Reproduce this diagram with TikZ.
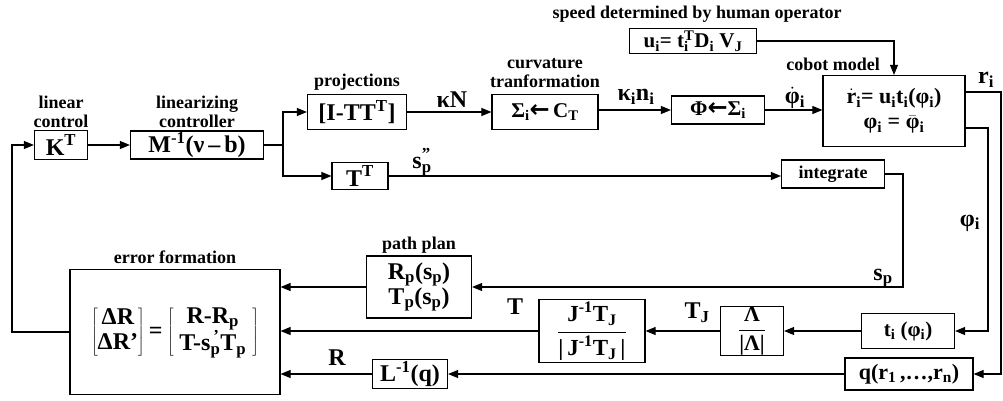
\documentclass[tikz,border=0pt]{standalone}
\usepackage{fontspec}
\setmainfont{Liberation Serif}
\newfontfamily\dvs{DejaVu Sans}
\usetikzlibrary{arrows.meta}
\newcommand\sbs[2]{#1\textsubscript{#2}}
\newcommand\ssp[3]{#1\setbox0\hbox{\textsuperscript{#2}}\setbox2\hbox{\textsubscript{#3}}\ifdim\wd0>\wd2 \rlap{\box2}\box0\else\rlap{\box0}\box2\fi}
\newcommand\dt[1]{\ensuremath{\dot{\hbox{#1}}}}
\newcommand\br[1]{\ensuremath{\bar{\hbox{#1}}}}
\newcommand\boxfont{\fontsize{21}{23}\selectfont\bfseries}
\newcommand\bigfont{\fontsize{24}{25}\selectfont\bfseries}
\newcommand\labfont{\fontsize{18}{19}\selectfont\bfseries}
\newcommand\larr{{\dvs\bfseries\fontsize{24}{24}\selectfont ←}}
\tikzset{
  box/.style={draw, line width=1.2pt, inner sep=0pt, font=\boxfont},
  bx/.style 2 args={box, minimum width=#1, minimum height=#2},
  lab/.style={font=\labfont, inner sep=0pt},
  clab/.style={font=\bigfont, inner sep=0pt},
  ln/.style={line width=1.1pt},
  arr/.style={line width=1.1pt, -{Triangle[length=10pt,width=8pt]}},
}
\begin{document}
\begin{tikzpicture}[x=1pt,y=-1pt]
\useasboundingbox (0,0) rectangle (1003,401);
% boxes
\node[bx={53}{29},font=\bigfont] (kt) at (61,145) {K\textsuperscript{T}};
\node[bx={133}{28},font=\bigfont] (minv) at (197,145) {M\textsuperscript{-1}(ν\,--\,b)};
\node[bx={99}{35},font=\bigfont] (proj) at (357,112) {[I-TT\textsuperscript{T}]};
\node[bx={106}{35}] (curv) at (545,112) {\sbs{Σ}{i}\larr\,\sbs{C}{T}};
\node[bx={93}{28}] (phisig) at (718,110) {Φ\larr\sbs{Σ}{i}};
\node[bx={142}{71},align=center,font=\fontsize{22}{25}\selectfont\bfseries] (cobot) at (894,111) {\sbs{\dt{r}}{i}= \sbs{u}{i}\sbs{t}{i}(\sbs{φ}{i})\\ \sbs{φ}{i} = \sbs{\br{φ}}{i}};
\node[bx={127}{25}] (ui) at (693,41) {\sbs{u}{i}= \ssp{t}{T}{i} \sbs{D}{i} \sbs{V}{J}};
\node[bx={56}{27},font=\bigfont] (tt) at (360,176) {T\textsuperscript{T}};
\node[bx={103}{28}] (integ) at (833,174) {\labfont integrate};
\node[bx={93}{35}] (ti) at (908,331) {\sbs{t}{i} (\sbs{φ}{i})};
\node[bx={128}{32},font=\fontsize{22}{24}\selectfont\bfseries] (q) at (909,374) {q(\sbs{r}{1}\,,…,\sbs{r}{n})};
\node[bx={63}{49},font=\fontsize{22}{24}\selectfont\bfseries] (lam) at (752,331) {$\displaystyle\frac{\hbox{Λ}}{\hbox{|Λ|}}$};
\node[bx={106}{63},font=\fontsize{23}{24}\selectfont\bfseries] (jb) at (592,331) {$\displaystyle\frac{\hbox{J\textsuperscript{-1}\sbs{T}{J}}}{\hbox{|\,J\textsuperscript{-1}\sbs{T}{J}\,|}}$};
\node[bx={105}{62},align=center,font=\bigfont] (pp) at (419,287) {\sbs{R}{p}(\sbs{s}{p})\\\sbs{T}{p}(\sbs{s}{p})};
\node[bx={75}{29},font=\bigfont] (linv) at (410,374) {L\textsuperscript{-1}(q)};
\node[bx={210}{125},font=\bigfont] (err) at (175,332) {$\left[\hbox{\begin{tabular}{@{}c@{}}ΔR\\ΔR'\end{tabular}}\right] \hbox{=} \left[\hbox{\begin{tabular}{c}R-\sbs{R}{p}\\T-\ssp{s}{\,'}{p}\sbs{T}{p}\end{tabular}}\right]$};
% labels
\node[lab,align=center] (lcl) at (61,112) {linear\\control};
\node[lab,align=center] (lzl) at (197,112) {linearizing\\controller};
\node[lab] (pjl) at (357,82) {projections};
\node[lab,align=center] (cvl) at (545,73) {curvature\\tranformation};
\node[lab] (cbl) at (833,64) {cobot model};
\node[lab] (spl) at (697,14) {speed determined by human operator};
\node[lab] (ppl) at (419,245) {path plan};
\node[lab] (efl) at (175,257) {error formation};
% connector labels
\node[clab] (lkn) at (452,100) {κN};
\node[clab] (lkni) at (636,97) {\sbs{κ}{i}\sbs{n}{i}};
\node[clab] (lphd) at (795,98) {\sbs{\dt{φ}}{i}};
\node[clab] (lspp) at (422,162) {\ssp{s}{"}{p}};
\node[clab] (lsp) at (883,278) {\sbs{s}{p}};
\node[clab] (lphi) at (970,223) {\sbs{φ}{i}};
\node[clab] (lri) at (986,80) {\sbs{r}{i}};
\node[clab] (ltj) at (697,313) {\sbs{T}{J}};
\node[clab] (lt) at (515,307) {T};
\node[clab] (lr) at (337,358) {R};
% coordinates
\coordinate (fb) at (12,0);
\coordinate (brp) at (283,145);
\coordinate (sr) at (903,0);
\coordinate (rr) at (1001,92);
\coordinate (fr) at (988,128);
% connectors
\draw[arr] (err.west) -- (err.west -| fb) |- (kt.west);
\draw[arr] (kt.east) -- (minv.west);
\draw[ln] (minv.east) -- (brp);
\draw[arr] (brp) |- (proj.west);
\draw[arr] (brp) |- (tt.west);
\draw[arr] (proj.east) -- (curv.west);
\draw[arr] (curv.east |- phisig.west) -- (phisig.west);
\draw[arr] (phisig.east) -- (phisig.east -| cobot.west);
\draw[arr] (ui.east) -| (cobot.north);
\draw[arr] (tt.east) -- (tt.east -| integ.west);
\draw[arr] (integ.east) -- (integ.east -| sr) |- (pp.east);
\draw[arr] (pp.west) -- (pp.west -| err.east);
\draw[arr] (cobot.east |- rr) -- (rr) |- (q.east);
\draw[arr] (cobot.east |- fr) -- (fr) |- (ti.east);
\draw[arr] (ti.west) -- (lam.east);
\draw[arr] (lam.west) -- (jb.east);
\draw[arr] (jb.west) -- (jb.west -| err.east);
\draw[arr] (q.west) -- (q.west -| linv.east);
\draw[arr] (linv.west) -- (linv.west -| err.east);
\end{tikzpicture}
\end{document}
